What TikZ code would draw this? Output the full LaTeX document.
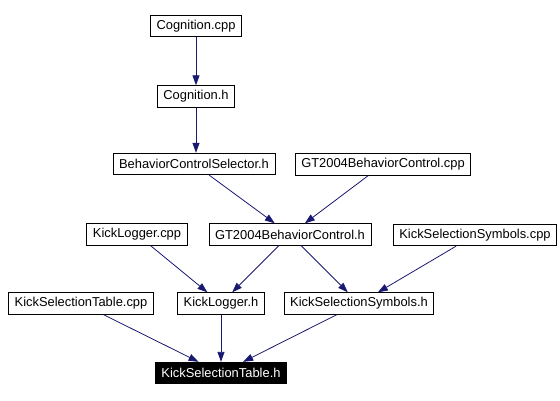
\documentclass[tikz,border=0pt]{standalone}
\usepackage{fontspec}
\setmainfont{Liberation Sans}
\usetikzlibrary{arrows.meta}
\begin{document}
\begin{tikzpicture}[x=1pt,y=-1pt,line width=0.8pt,
    file/.style={draw,rectangle,inner xsep=6pt,inner ysep=0pt,minimum height=21.5pt,font=\fontsize{12.9}{14}\selectfont},
    dep/.style={edge,-{Triangle[length=10pt,width=7pt]}}]

  \definecolor{edge}{RGB}{25,25,112} % midnight blue
  \useasboundingbox (0,0) rectangle (560,401);

  % Top chain
  \node[file] (cogcpp) at (196,26) {Cognition.cpp};
  \node[file] (cogh) at (196,96.5) {Cognition.h};
  \node[file] (bcsh) at (194,164) {BehaviorControlSelector.h};
  \node[file] (gtcpp) at (383,164.5) {GT2004BehaviorControl.cpp};

  % Middle row
  \node[file] (klcpp) at (137,234.5) {KickLogger.cpp};
  \node[file] (gth) at (290,234.5) {GT2004BehaviorControl.h};
  \node[file] (ksscpp) at (475,235) {KickSelectionSymbols.cpp};

  % Lower row
  \node[file] (kstcpp) at (81,303.5) {KickSelectionTable.cpp};
  \node[file] (klh) at (221,303.5) {KickLogger.h};
  \node[file] (kssh) at (359,303.5) {KickSelectionSymbols.h};

  % Selected file
  \node[file,fill=black,text=white] (ksth) at (221,373) {KickSelectionTable.h};

  % Draw includes
  \draw[dep] (cogcpp) -- (cogh);
  \draw[dep] (cogh) -- (bcsh.north -| cogh);
  \draw[dep] (bcsh) -- (gth);
  \draw[dep] (gtcpp) -- (gth);
  \draw[dep] (klcpp) -- (klh);
  \draw[dep] (gth) -- (klh);
  \draw[dep] (gth) -- (kssh);
  \draw[dep] (ksscpp) -- (kssh);
  \draw[dep] (kstcpp) -- (ksth);
  \draw[dep] (klh) -- (ksth);
  \draw[dep] (kssh) -- (ksth);

\end{tikzpicture}
\end{document}
